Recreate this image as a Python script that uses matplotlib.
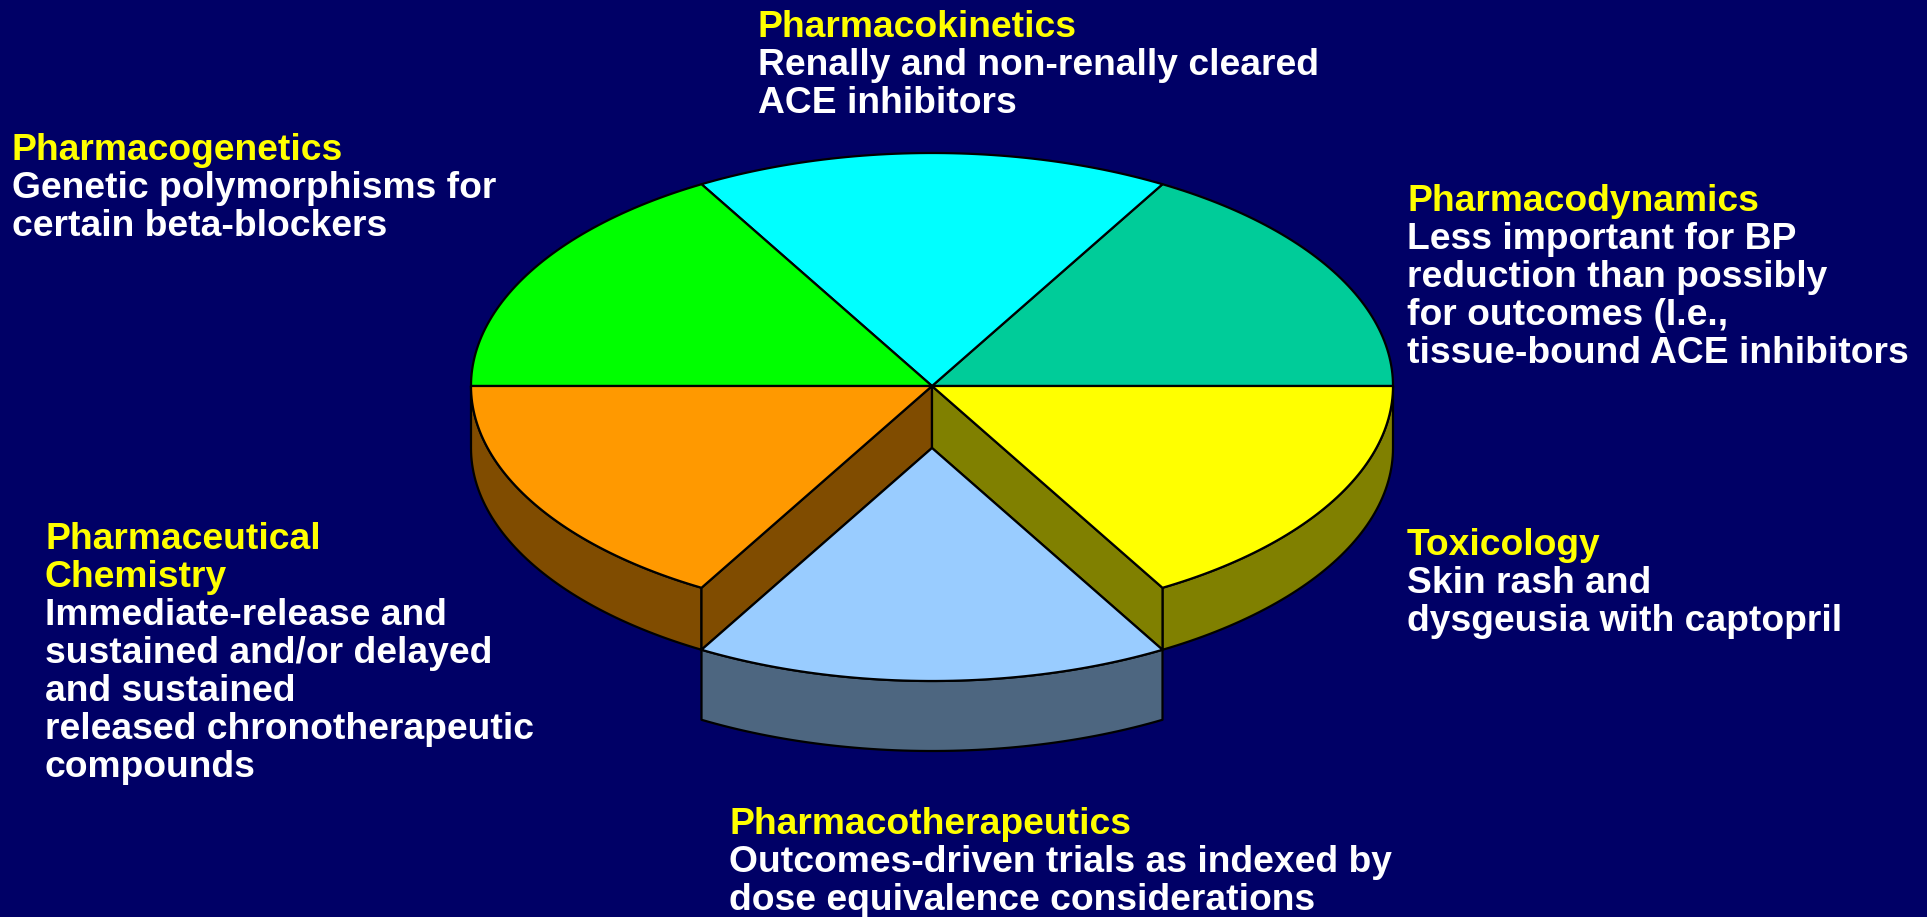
import numpy as np
import matplotlib.pyplot as plt
from matplotlib.patches import Polygon

# slices, counter-clockwise from 3 o'clock
titles = ['Pharmacodynamics', 'Pharmacokinetics', 'Pharmacogenetics',
          'Pharmaceutical\nChemistry', 'Pharmacotherapeutics', 'Toxicology']
notes = [
    'Less important for BP\nreduction than possibly\nfor outcomes (I.e.,\ntissue-bound ACE inhibitors',
    'Renally and non-renally cleared\nACE inhibitors',
    'Genetic polymorphisms for\ncertain beta-blockers',
    'Immediate-release and\nsustained and/or delayed\nand sustained\nreleased chronotherapeutic\ncompounds',
    'Outcomes-driven trials as indexed by\ndose equivalence considerations',
    'Skin rash and\ndysgeusia with captopril',
]
values = [1, 1, 1, 1, 1, 1]
explode = [0, 0, 0, 0, 1, 0]
top_colors = ['#00CC99', '#00FFFF', '#00FF00', '#FF9900', '#99CCFF', '#FFFF00']
side_colors = ['#006650', '#008080', '#008000', '#804C00', '#4D6680', '#808000']

# label anchor (left x, first baseline y) in pixels
label_pos = [(1407, 211), (758, 37), (12, 160), (45, 549), (729, 834), (1407, 555)]

bg = '#000066'
W, H = 1927, 917
fig = plt.figure(figsize=(W / 100, H / 100), dpi=100, facecolor=bg)
ax = fig.add_axes([0, 0, 1, 1])
ax.set_xlim(0, W)
ax.set_ylim(H, 0)
ax.axis('off')
ax.set_facecolor(bg)

cx, cy = 932, 386
rx, ry = 461, 233
depth = 62
exp_shift = 62
exp_depth = 70


def pt(t, ox=0.0, oy=0.0):
    r = np.radians(t)
    return cx + ox + rx * np.cos(r), cy + oy - ry * np.sin(r)


def arc(t0, t1, oy=0.0):
    ts = np.linspace(t0, t1, 60)
    return [pt(t, 0, oy) for t in ts]


def poly(points, color, z):
    ax.add_patch(Polygon(points, closed=True, facecolor=color, edgecolor='black',
                         linewidth=1.6, joinstyle='round', zorder=z))


angles = np.concatenate([[0], np.cumsum(values)]) / np.sum(values) * 360

# fixed slices: walls then tops
for i in range(len(values)):
    if explode[i]:
        continue
    a0, a1 = angles[i], angles[i + 1]
    # outer wall on the front half
    f0, f1 = max(a0, 180), min(a1, 360)
    if f1 > f0:
        poly(arc(f0, f1) + arc(f0, f1, depth)[::-1], side_colors[i], 1)
    # radial walls next to an exploded neighbour
    n = len(values)
    for a, nb in ((a0, (i - 1) % n), (a1, (i + 1) % n)):
        if explode[nb] and 180 < a < 360:
            c = (cx, cy)
            e = pt(a)
            poly([c, e, (e[0], e[1] + depth), (c[0], c[1] + depth)], side_colors[i], 2)
    poly([(cx, cy)] + arc(a0, a1), top_colors[i], 3)

# exploded slices
for i in range(len(values)):
    if not explode[i]:
        continue
    a0, a1 = angles[i], angles[i + 1]
    mid = np.radians((a0 + a1) / 2)
    ox = exp_shift * np.cos(mid)
    oy = -exp_shift * np.sin(mid)
    ts = np.linspace(a0, a1, 60)
    topa = [pt(t, ox, oy) for t in ts]
    bota = [pt(t, ox, oy + exp_depth) for t in ts]
    poly(topa + bota[::-1], side_colors[i], 4)
    poly([(cx + ox, cy + oy)] + topa, top_colors[i], 5)

# labels
fs = 26.8
step = 38
for i in range(len(titles)):
    x, y = label_pos[i]
    lines = titles[i].split('\n')
    k = 0
    for ln in lines:
        ax.text(x, y + k * step, ln, color='#FFFF00', fontsize=fs, fontweight='bold',
                family=['Liberation Sans', 'DejaVu Sans'], va='baseline', ha='left', zorder=10)
        k += 1
    for ln in notes[i].split('\n'):
        ax.text(x, y + k * step, ln, color='white', fontsize=fs, fontweight='bold',
                family=['Liberation Sans', 'DejaVu Sans'], va='baseline', ha='left', zorder=10)
        k += 1

fig.savefig('out.png', dpi=100, facecolor=bg)
